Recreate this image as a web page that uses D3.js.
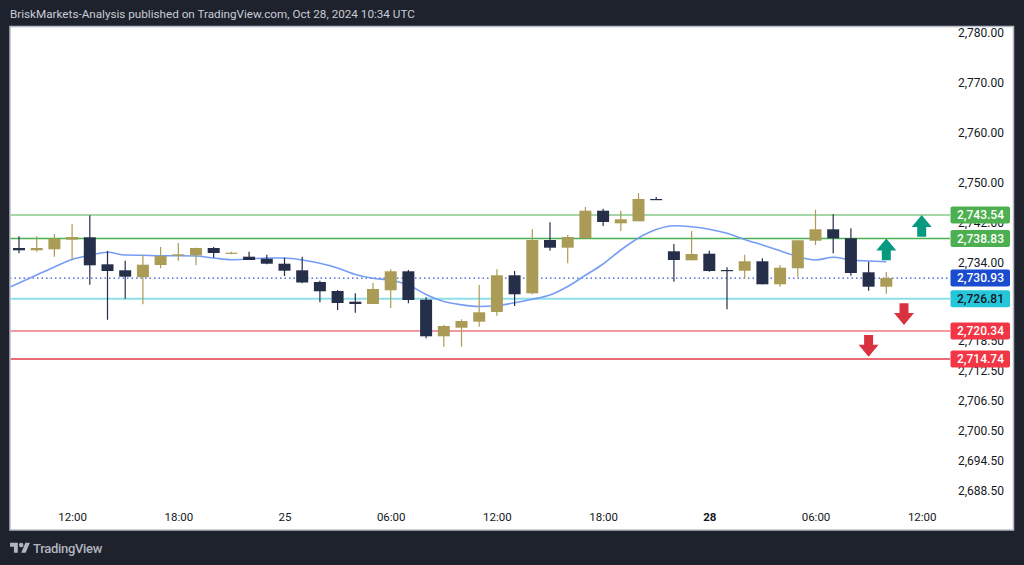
<!DOCTYPE html>
<html><head><meta charset="utf-8">
<script src="https://cdn.jsdelivr.net/npm/d3@7"></script>
<style>html,body{margin:0;padding:0;background:#1e222d;overflow:hidden}</style>
</head><body><svg id="c" width="1024" height="565"></svg>
<script>
// ---- data ----
const opens  = [2736.94,2736.48,2736.68,2738.60,2739.08,2733.68,2732.48,2731.08,2733.54,2735.40,2735.48,2736.94,2735.88,2735.20,2734.80,2733.80,2732.48,2730.14,2728.34,2726.20,2725.74,2728.48,2732.28,2726.60,2719.28,2721.00,2722.20,2724.14,2731.48,2727.88,2738.54,2737.00,2738.88,2744.40,2741.88,2742.28,2746.74,2736.28,2734.48,2735.80,2732.54,2732.40,2734.28,2729.68,2732.88,2738.40,2740.68,2738.88,2732.08,2729.20];
const highs  = [2739.28,2739.28,2739.74,2741.74,2743.48,2736.34,2734.40,2735.54,2737.14,2737.94,2737.00,2737.14,2736.20,2736.20,2735.60,2735.00,2735.20,2730.40,2728.54,2727.88,2729.94,2732.68,2732.54,2727.08,2721.54,2722.68,2729.54,2732.68,2732.34,2740.68,2742.08,2739.54,2745.14,2744.80,2744.40,2747.94,2747.14,2737.74,2740.34,2736.40,2733.08,2735.60,2734.88,2733.54,2738.48,2744.60,2743.68,2740.88,2734.20,2732.14];
const lows   = [2735.88,2736.20,2735.20,2734.54,2729.60,2722.60,2726.80,2725.68,2732.88,2734.40,2733.48,2735.00,2735.70,2734.54,2733.70,2731.34,2729.88,2726.08,2724.54,2724.00,2725.74,2724.94,2725.88,2718.88,2717.20,2717.20,2721.20,2723.40,2725.34,2727.68,2736.40,2733.88,2738.88,2741.34,2740.34,2742.28,2746.60,2730.20,2734.48,2732.20,2724.68,2730.80,2729.68,2729.20,2731.08,2737.54,2735.88,2731.40,2728.40,2727.80];
const closes = [2736.48,2736.94,2738.80,2739.14,2733.48,2732.34,2731.20,2733.60,2735.34,2735.68,2736.94,2735.94,2736.00,2734.54,2733.80,2732.40,2730.04,2728.28,2725.94,2725.74,2728.74,2732.28,2726.54,2719.28,2721.34,2722.34,2724.08,2731.48,2727.68,2738.54,2737.00,2739.14,2744.40,2742.14,2742.68,2746.74,2746.60,2734.54,2735.74,2732.34,2732.40,2734.28,2729.68,2733.00,2738.48,2740.68,2738.88,2731.94,2729.20,2730.93];
// moving average, index 0 is the bar before the first visible candle
const maValues = [2728.34,2729.94,2731.54,2733.14,2734.64,2735.48,2736.08,2735.54,2735.48,2735.40,2735.40,2735.34,2734.94,2734.60,2734.74,2734.94,2734.94,2734.54,2733.88,2732.94,2731.64,2730.88,2730.50,2729.54,2727.64,2726.24,2725.58,2725.24,2725.40,2725.98,2726.68,2727.54,2729.24,2731.48,2733.74,2736.54,2738.94,2740.62,2741.38,2741.20,2740.70,2739.88,2738.66,2737.54,2736.40,2735.22,2734.54,2735.08,2734.54,2734.34,2734.20];
const timeTickIdx    = [4,10,16,22,28,34,40,46,52];
const timeTickLabels = ["12:00","18:00","25","06:00","12:00","18:00","28","06:00","12:00"];
const priceTicks = [2780,2770,2760,2750,2742,2734,2718.5,2712.5,2706.5,2700.5,2694.5,2688.5];
const levels = [2743.54,2738.83,2730.93,2726.81,2720.34,2714.74];
const upArrowIdx = [52,50], upArrowPrice = [2743.54,2738.83];
const downArrowIdx = [51,49], downArrowPrice = [2721.54,2715.20];

// ---- styles ----
const BG="#1e222d", UP="#aa9c56", DOWN="#262f4a";
const levelStyle = [
  {line:"#a5d6a7", w:2,   dash:null,  bg:"#4caf50", fg:"#ffffff"},
  {line:"#4caf50", w:1.5, dash:null,  bg:"#4caf50", fg:"#ffffff"},
  {line:"#2e54d6", w:1.2, dash:"1.5,3", bg:"#1b4bcf", fg:"#ffffff"},
  {line:"#8edfea", w:2,   dash:null,  bg:"#26c6da", fg:"#131722"},
  {line:"#ec7680", w:1.5, dash:null,  bg:"#f23645", fg:"#ffffff"},
  {line:"#e23c4a", w:1.3, dash:null,  bg:"#f23645", fg:"#ffffff"}
];
const FONT = "Roboto, 'Noto Sans', sans-serif";

const svg = d3.select("#c");
svg.append("rect").attr("width",1024).attr("height",565).attr("fill",BG);

// header
svg.append("text").attr("x",10).attr("y",18).attr("fill","#c9ccd4")
  .attr("font-family",FONT).attr("font-size",11.7)
  .text("BriskMarkets-Analysis published on TradingView.com, Oct 28, 2024 10:34 UTC");

// panel
const P = {l:10, t:26.5, r:1013.5, b:530};
svg.append("rect").attr("x",P.l).attr("y",P.t).attr("width",P.r-P.l).attr("height",P.b-P.t)
  .attr("fill","#ffffff").attr("stroke","#b8bbc3").attr("stroke-width",1.5);

const plotRight = 950;
const x = d3.scaleLinear().domain([1,52]).range([19, 19+51*17.7]);
const y = d3.scaleLinear().domain([2688.5,2780]).range([490.2,32.7]);

// clip
svg.append("clipPath").attr("id","plot").append("rect")
  .attr("x",P.l+0.75).attr("y",P.t+0.75).attr("width",plotRight-P.l).attr("height",P.b-P.t-1.5);

// price axis ticks
const yAxis = d3.axisRight(y).tickValues(priceTicks).tickSize(0).tickFormat(d3.format(",.2f"));
const ga = svg.append("g").attr("transform",`translate(1004,0)`).call(yAxis);
ga.select(".domain").remove();
ga.selectAll("text").attr("x",0).attr("text-anchor","end").attr("dy","0.35em")
  .attr("font-family",FONT).attr("font-size",12).attr("fill","#131722");

// time axis
const xAxis = d3.axisBottom(x).tickValues(timeTickIdx).tickSize(0)
  .tickFormat((d,i)=>timeTickLabels[i]);
const gx = svg.append("g").attr("transform",`translate(0,512.5)`).call(xAxis);
gx.select(".domain").remove();
gx.selectAll("text").attr("y",0).attr("dy","0.71em").attr("font-family",FONT).attr("font-size",11.5)
  .attr("fill","#131722").attr("font-weight",(d,i)=>timeTickLabels[i]==="28"?700:400);

const plot = svg.append("g").attr("clip-path","url(#plot)");

// level lines
levels.forEach((v,k)=>{
  const s = levelStyle[k];
  plot.append("line").attr("x1",P.l).attr("x2",plotRight).attr("y1",y(v)).attr("y2",y(v))
    .attr("stroke",s.line).attr("stroke-width",s.w).attr("stroke-dasharray",s.dash);
});

// moving average
plot.append("path").datum(maValues)
  .attr("d", d3.line().x((d,i)=>x(i)).y(d=>y(d)).curve(d3.curveMonotoneX))
  .attr("fill","none").attr("stroke","#6f98f4").attr("stroke-width",1.6).attr("stroke-opacity",0.95);

// candles
const bw = 12;
const candles = plot.selectAll("g.c").data(d3.range(opens.length)).join("g");
candles.append("line")
  .attr("x1",i=>x(i+1)).attr("x2",i=>x(i+1))
  .attr("y1",i=>y(highs[i])).attr("y2",i=>y(lows[i]))
  .attr("stroke",i=>closes[i]>=opens[i]?UP:DOWN).attr("stroke-width",1.2);
candles.append("rect")
  .attr("x",i=>x(i+1)-bw/2).attr("width",bw)
  .attr("y",i=>y(Math.max(opens[i],closes[i])))
  .attr("height",i=>Math.max(1.2, y(Math.min(opens[i],closes[i]))-y(Math.max(opens[i],closes[i]))))
  .attr("fill",i=>closes[i]>=opens[i]?UP:DOWN);

// arrows (tip at given point)
function arrow(cx, tipY, dir, color){
  const hw=10, hh=12, sw=4.5, total=21.7;
  const pts = [[0,0],[hw,hh],[sw,hh],[sw,total],[-sw,total],[-sw,hh],[-hw,hh]]
    .map(p=>[cx+p[0], tipY + dir*p[1]]);
  plot.append("polygon").attr("points",pts.map(p=>p.join(",")).join(" ")).attr("fill",color);
}
upArrowIdx.forEach((d,k)=>arrow(x(d), y(upArrowPrice[k]), 1, "#089981"));
downArrowIdx.forEach((d,k)=>arrow(x(d), y(downArrowPrice[k]), -1, "#d9323f"));

// level labels
levels.forEach((v,k)=>{
  const s = levelStyle[k];
  svg.append("rect").attr("x",950.5).attr("y",y(v)-8.5).attr("width",59.5).attr("height",17)
    .attr("rx",2).attr("fill",s.bg);
  svg.append("text").attr("x",1004).attr("y",y(v)).attr("dy","0.36em").attr("text-anchor","end")
    .attr("font-family",FONT).attr("font-size",12).attr("font-weight",500).attr("fill",s.fg)
    .text(d3.format(",.2f")(v));
});

// TradingView logo
const logo = svg.append("g").attr("transform","translate(10,540.5) scale(0.56)").attr("fill","#b2b5be");
logo.append("path").attr("d","M14 22H7V11H0V4h14v18zM28 22h-8l7.5-18h8L28 22z");
logo.append("circle").attr("cx",20).attr("cy",8).attr("r",4);
svg.append("text").attr("x",33).attr("y",552.5).attr("fill","#b2b5be")
  .attr("font-family",FONT).attr("font-size",13).attr("font-weight",500).attr("letter-spacing",-0.3)
  .text("TradingView");
</script>
</body></html>
